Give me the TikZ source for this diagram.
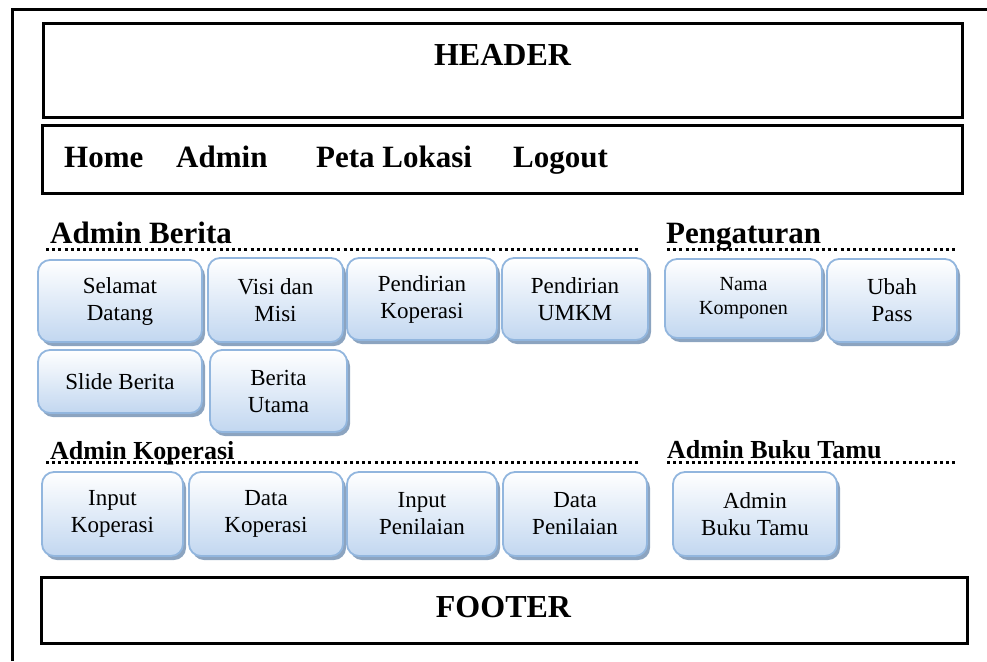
\documentclass[tikz,border=0pt]{standalone}
\usepackage{fontspec}
\setmainfont{Liberation Serif}
\usetikzlibrary{shadows}
\definecolor{btnline}{RGB}{146,182,222}
\definecolor{btnfill}{RGB}{194,215,240}
\definecolor{btnshade}{RGB}{140,164,192}
\begin{document}
\begin{tikzpicture}[
    x=1pt, y=-1pt,
    frame/.style={draw, line width=3pt},
    title/.style={font=\fontsize{32}{36}\selectfont\bfseries},
    menu/.style={anchor=base west, inner sep=0pt, font=\fontsize{31}{36}\selectfont\bfseries},
    section/.style={anchor=base west, inner sep=0pt, font=\fontsize{31}{36}\selectfont\bfseries},
    subsection/.style={anchor=base west, inner sep=0pt, font=\fontsize{26}{30}\selectfont\bfseries},
    dots/.style={line width=3pt, dash pattern=on 3pt off 3.2pt},
    btn/.style={draw=btnline, line width=1.8pt, rounded corners=12pt, align=center, inner sep=0pt,
        top color=white, bottom color=btnfill,
        drop shadow={shadow xshift=3pt, shadow yshift=-4pt, fill=btnshade, opacity=1},
        font=\fontsize{23}{27}\selectfont}
]
\useasboundingbox (0,0) rectangle (987,661);
\draw[line width=3pt] (12,661) -- (12,10) -- (987,10);

% header, menu and footer
\node[frame, minimum width=919pt, minimum height=93pt] (header) at (502.5,70.5) {};
\node[title, anchor=base] (headertxt) at (502.5,66) {HEADER};
\node[frame, minimum width=920pt, minimum height=68pt] (menubar) at (502,159) {};
\node[menu] (home) at (64,167) {Home};
\node[menu] (admin) at (176,167) {Admin};
\node[menu] (peta) at (316,167) {Peta Lokasi};
\node[menu] (logout) at (513,167) {Logout};
\node[frame, minimum width=926pt, minimum height=66pt] (footer) at (504,610) {};
\node[title, anchor=base] (footertxt) at (503.5,617) {FOOTER};

% admin berita
\node[section] (berita) at (50,243) {Admin Berita};
\coordinate (b1) at (46,249);
\coordinate (b2) at (641,249);
\draw[dots] (b1) -- (b2);
\node[section] (atur) at (666,243) {Pengaturan};
\coordinate (a1) at (667,249);
\coordinate (a2) at (955,249);
\draw[dots] (a1) -- (a2);

\node[btn, minimum width=164pt, minimum height=82pt] (selamat) at (120,301) {Selamat\\Datang};
\node[btn, minimum width=135pt, minimum height=84pt] (visi) at (275.5,300) {Visi dan\\Misi};
\node[btn, minimum width=150pt, minimum height=82pt] (pkop) at (422,299) {Pendirian\\Koperasi};
\node[btn, minimum width=146pt, minimum height=82pt] (pumkm) at (575,299) {Pendirian\\UMKM};
\node[btn, minimum width=157pt, minimum height=79pt, font=\fontsize{20}{24}\selectfont] (nama) at (743.5,298.5) {Nama\\Komponen};
\node[btn, minimum width=130pt, minimum height=83pt] (pass) at (892,300.5) {Ubah\\Pass};
\node[btn, minimum width=164pt, minimum height=63pt] (slide) at (120,381.5) {Slide Berita};
\node[btn, minimum width=137pt, minimum height=82pt] (utama) at (278.5,391) {Berita\\Utama};

% admin koperasi
\node[subsection] (koperasi) at (50,459) {Admin Koperasi};
\coordinate (k1) at (46,462);
\coordinate (k2) at (641,462);
\draw[dots] (k1) -- (k2);
\node[subsection] (tamu) at (667,458) {Admin Buku Tamu};
\coordinate (t1) at (667,462);
\coordinate (t2) at (955,462);
\draw[dots] (t1) -- (t2);

\node[btn, minimum width=141pt, minimum height=84pt] (inkop) at (112.5,514) {Input\\Koperasi};
\node[btn, minimum width=154pt, minimum height=84pt] (datakop) at (266,514) {Data\\Koperasi};
\node[btn, minimum width=150pt, minimum height=84pt] (innilai) at (422,514) {Input\\Penilaian};
\node[btn, minimum width=144pt, minimum height=84pt] (datanilai) at (575,514) {Data\\Penilaian};
\node[btn, minimum width=164pt, minimum height=84pt] (bukutamu) at (755,514) {Admin\\Buku Tamu};
\end{tikzpicture}
\end{document}
